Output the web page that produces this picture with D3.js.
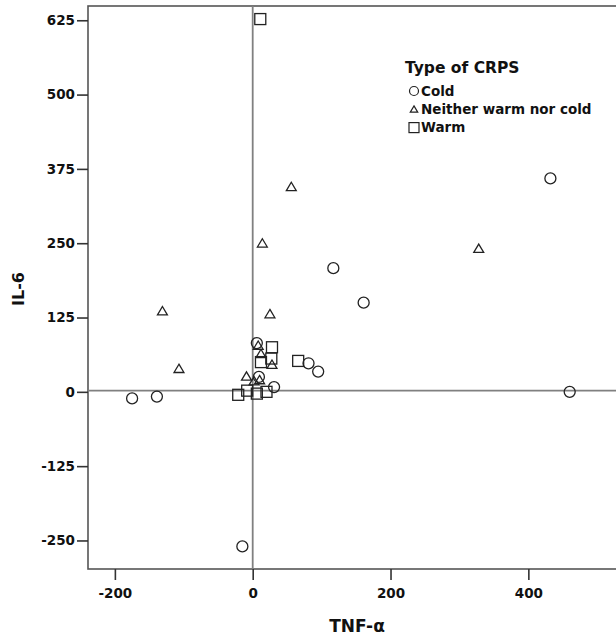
<!DOCTYPE html>
<html lang="en">

<head>
    <meta charset="UTF-8">
    <title>TNF-α vs IL-6 scatter</title>
    <script src="https://d3js.org/d3.v7.min.js"></script>
    <style>
        body { margin: 0; background: white; }
        text { font-family: "DejaVu Sans", Arial, sans-serif; font-weight: bold; fill: #111; }
    </style>
</head>

<body>
    <div id="chart"></div>

    <script>
        // data: [TNF-α, IL-6]
        const cold = [
            [432, 359], [117, 208], [161, 150], [460, 0], [81, 48], [95, 34],
            [-175, -11], [-139, -8], [-15, -260], [6, 82], [9, 25], [31, 8]
        ];
        const neither = [
            [56, 345], [14, 250], [-131, 136], [-107, 39], [25, 131], [328, 241],
            [8, 78], [12, 64], [28, 46], [-9, 26], [10, 20], [2, 18]
        ];
        const warm = [
            [11, 627], [66, 52], [28, 75], [12, 50], [27, 56],
            [-21, -5], [-8, 2], [6, -3], [20, 0]
        ];
        const xTicks = [-200, 0, 200, 400];
        const yTicks = [-250, -125, 0, 125, 250, 375, 500, 625];
        const refX = 0;
        const refY = 2;
        const groups = ['Cold', 'Neither warm nor cold', 'Warm'];

        const width = 616;
        const height = 636;
        const margin = { top: 6, right: -4, bottom: 67, left: 88 };

        const svg = d3.select('#chart').append('svg')
            .attr('width', width)
            .attr('height', height);

        const x = d3.scaleLinear()
            .domain([-239, 533])
            .range([margin.left, width - margin.right]);

        const y = d3.scaleLinear()
            .domain([-298, 649])
            .range([height - margin.bottom, margin.top]);

        // frame
        svg.append('rect')
            .attr('x', margin.left)
            .attr('y', margin.top)
            .attr('width', width - margin.right - margin.left)
            .attr('height', height - margin.bottom - margin.top)
            .attr('fill', 'none')
            .attr('stroke', '#555')
            .attr('stroke-width', 1.6);

        // reference lines
        svg.append('line')
            .attr('x1', x(refX)).attr('x2', x(refX))
            .attr('y1', margin.top).attr('y2', height - margin.bottom)
            .attr('stroke', '#808080').attr('stroke-width', 1.8);
        svg.append('line')
            .attr('x1', margin.left).attr('x2', width)
            .attr('y1', y(refY)).attr('y2', y(refY))
            .attr('stroke', '#808080').attr('stroke-width', 1.8);

        // axes
        const xAxis = svg.append('g')
            .attr('transform', 'translate(0,' + (height - margin.bottom) + ')')
            .call(d3.axisBottom(x).tickValues(xTicks).tickSize(11).tickPadding(8).tickFormat(d => String(d)));
        const yAxis = svg.append('g')
            .attr('transform', 'translate(' + margin.left + ',0)')
            .call(d3.axisLeft(y).tickValues(yTicks).tickSize(11).tickPadding(2).tickFormat(d => String(d)));

        [xAxis, yAxis].forEach(g => {
            g.select('.domain').remove();
            g.selectAll('line').attr('stroke', '#333').attr('stroke-width', 1.6);
            g.selectAll('text').attr('font-size', 13.5).attr('font-family', '"DejaVu Sans", Arial, sans-serif');
        });

        // axis titles
        svg.append('text')
            .attr('x', 357)
            .attr('y', 632)
            .attr('text-anchor', 'middle')
            .attr('font-size', 17)
            .text('TNF-α');
        svg.append('text')
            .attr('transform', 'translate(24,289) rotate(-90)')
            .attr('text-anchor', 'middle')
            .attr('font-size', 16)
            .text('IL-6');

        // marker shapes
        function drawShape(g, kind, s) {
            if (kind === 0) {
                g.append('circle').attr('r', s / 2);
            } else if (kind === 1) {
                const h = s * 0.45;
                g.append('path').attr('d', 'M0,' + (-h) + 'L' + h * 1.1 + ',' + h * 0.85 + 'L' + (-h * 1.1) + ',' + h * 0.85 + 'Z');
            } else {
                g.append('rect').attr('x', -s / 2).attr('y', -s / 2).attr('width', s).attr('height', s);
            }
        }

        const plot = svg.append('g')
            .attr('fill', 'none')
            .attr('stroke', '#222')
            .attr('stroke-width', 1.3);

        [cold, neither, warm].forEach((series, i) => {
            series.forEach(d => {
                const g = plot.append('g')
                    .attr('transform', 'translate(' + x(d[0]) + ',' + y(d[1]) + ')');
                drawShape(g, i, i === 1 ? 10 : 11);
            });
        });

        // legend
        const legend = svg.append('g');
        legend.append('text')
            .attr('x', 405)
            .attr('y', 73)
            .attr('font-size', 15.5)
            .text('Type of CRPS');

        groups.forEach((name, i) => {
            const cy = 91 + i * 18.3;
            const g = legend.append('g')
                .attr('transform', 'translate(414,' + cy + ')')
                .attr('fill', 'none')
                .attr('stroke', '#222')
                .attr('stroke-width', 1.2);
            drawShape(g, i, i === 1 ? 7.5 : (i === 0 ? 9 : 10));
            legend.append('text')
                .attr('x', 421)
                .attr('y', cy)
                .attr('dy', '0.36em')
                .attr('font-size', 13.5)
                .text(name);
        });
    </script>

</body>

</html>
